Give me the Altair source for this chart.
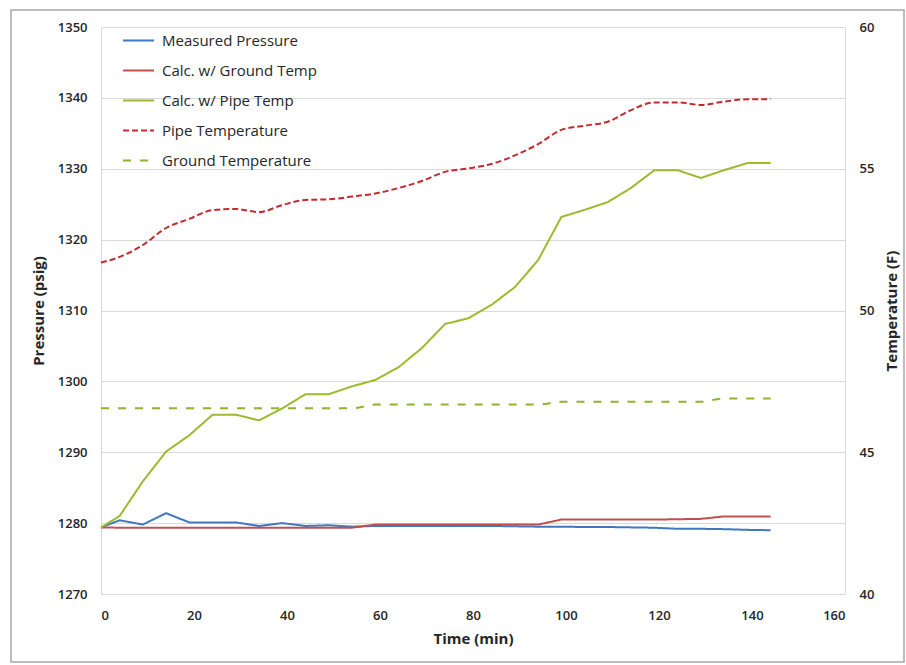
import altair as alt
import pandas as pd

# Sampling times (min)
times = [0, 4, 9, 14, 19, 24, 29, 34, 39, 44, 49, 54, 59, 64, 69, 74, 79, 84,
         89, 94, 99, 104, 109, 114, 119, 124, 129, 134, 139, 144]

# Pressures (psig)
measured = [1279.4, 1280.4, 1279.8, 1281.4, 1280.1, 1280.1, 1280.1, 1279.6, 1280.0, 1279.6,
            1279.7, 1279.5, 1279.6, 1279.6, 1279.6, 1279.6, 1279.6, 1279.6, 1279.55, 1279.5,
            1279.5, 1279.45, 1279.45, 1279.4, 1279.35, 1279.2, 1279.2, 1279.15, 1279.05, 1279.0]
calc_ground = [1279.4, 1279.35, 1279.35, 1279.35, 1279.35, 1279.35, 1279.35, 1279.35, 1279.35, 1279.35,
               1279.35, 1279.35, 1279.8, 1279.8, 1279.8, 1279.8, 1279.8, 1279.8, 1279.8, 1279.8,
               1280.5, 1280.5, 1280.5, 1280.5, 1280.5, 1280.55, 1280.6, 1280.95, 1280.95, 1280.95]
calc_pipe = [1279.4, 1281.0, 1285.9, 1290.1, 1292.4, 1295.3, 1295.3, 1294.5, 1296.2, 1298.2,
             1298.2, 1299.3, 1300.2, 1302.0, 1304.7, 1308.1, 1308.9, 1310.8, 1313.3, 1317.1,
             1323.2, 1324.2, 1325.3, 1327.3, 1329.8, 1329.8, 1328.7, 1329.8, 1330.8, 1330.8]

# Temperatures (F)
pipe_temp = [51.69, 51.89, 52.31, 52.91, 53.23, 53.54, 53.58, 53.47, 53.72, 53.90,
             53.92, 54.02, 54.13, 54.32, 54.57, 54.89, 55.01, 55.17, 55.47, 55.87,
             56.37, 56.52, 56.66, 57.07, 57.34, 57.34, 57.25, 57.37, 57.45, 57.45]
ground_temp = [46.55, 46.55, 46.55, 46.55, 46.55, 46.55, 46.55, 46.55, 46.55, 46.55,
               46.55, 46.55, 46.68, 46.68, 46.68, 46.68, 46.68, 46.68, 46.68, 46.68,
               46.78, 46.78, 46.78, 46.78, 46.78, 46.78, 46.78, 46.90, 46.90, 46.90]

series_names = ["Measured Pressure", "Calc. w/ Ground Temp", "Calc. w/ Pipe Temp",
                "Pipe Temperature", "Ground Temperature"]
series_colors = ["#3F78BF", "#C0504D", "#9BBB2E", "#C42A2E", "#8DB52A"]
series_dashes = [[1, 0], [1, 0], [1, 0], [6, 3], [8, 9]]

x_ticks = list(range(0, 161, 20))
p_ticks = list(range(1270, 1351, 10))
t_ticks = list(range(40, 61, 5))

FONT = "Open Sans"
TEXT = "#262626"
GRID = "#d9d9d9"


def long_frame(pairs):
    rows = []
    for name, values in pairs:
        for t, v in zip(times, values):
            rows.append({"time": t, "value": v, "series": name})
    return pd.DataFrame(rows)


pressure_df = long_frame([(series_names[0], measured),
                          (series_names[1], calc_ground),
                          (series_names[2], calc_pipe)])
temp_df = long_frame([(series_names[3], pipe_temp),
                      (series_names[4], ground_temp)])

legend = alt.Legend(
    title=None, orient="none", legendX=21, legendY=-3, padding=0,
    symbolType="stroke", symbolSize=961, symbolStrokeWidth=2,
    labelFont=FONT, labelFontSize=15, labelColor=TEXT, labelOffset=7,
    rowPadding=5,
)
color = alt.Color("series:N", scale=alt.Scale(domain=series_names, range=series_colors),
                  legend=legend)
dash = alt.StrokeDash("series:N", scale=alt.Scale(domain=series_names, range=series_dashes),
                      legend=legend)

x_enc = alt.X(
    "time:Q",
    scale=alt.Scale(domain=[0, 160], nice=False),
    axis=alt.Axis(values=x_ticks, title="Time (min)", grid=False, domain=False, ticks=False,
                  labelPadding=15, titlePadding=9),
)

pressure = alt.Chart(pressure_df).mark_line(strokeWidth=2).encode(
    x=x_enc,
    y=alt.Y("value:Q", scale=alt.Scale(domain=[1270, 1350], nice=False, zero=False),
            axis=alt.Axis(values=p_ticks, format="d", title="Pressure (psig)", grid=True,
                          gridColor=GRID, domainColor=GRID, ticks=False, labelPadding=14,
                          titlePadding=11)),
    color=color,
    strokeDash=dash,
    order=alt.Order("time:Q"),
)

temperature = alt.Chart(temp_df).mark_line(strokeWidth=2, interpolate="monotone").encode(
    x=x_enc,
    y=alt.Y("value:Q", scale=alt.Scale(domain=[40, 60], nice=False, zero=False),
            axis=alt.Axis(values=t_ticks, format="d", orient="right", title="Temperature (F)",
                          grid=False, domainColor=GRID, ticks=False, labelPadding=14,
                          titlePadding=26, titleAngle=270)),
    color=color,
    strokeDash=dash,
    order=alt.Order("time:Q"),
)

# Outer frame around the figure
frame = alt.Chart(pd.DataFrame({"f": [0]})).mark_rect(
    fillOpacity=0, stroke="#a6a6a6", strokeWidth=1.5
).encode(
    x=alt.value(-90), x2=alt.value(803), y=alt.value(-17), y2=alt.value(635)
)

chart = alt.layer(pressure, temperature, frame).resolve_scale(
    y="independent"
).properties(
    width=744, height=567,
    padding={"left": 101, "top": 27, "right": 61, "bottom": 71},
    autosize=alt.AutoSizeParams(type="none"),
    background="white",
).configure_view(
    stroke=None
).configure_axis(
    labelFont=FONT, labelFontSize=13, labelFontWeight=600, labelColor=TEXT,
    titleFont=FONT, titleFontSize=15, titleFontWeight="bold", titleColor=TEXT,
)

chart.save("out.html", embed_options={"renderer": "svg", "actions": False})
